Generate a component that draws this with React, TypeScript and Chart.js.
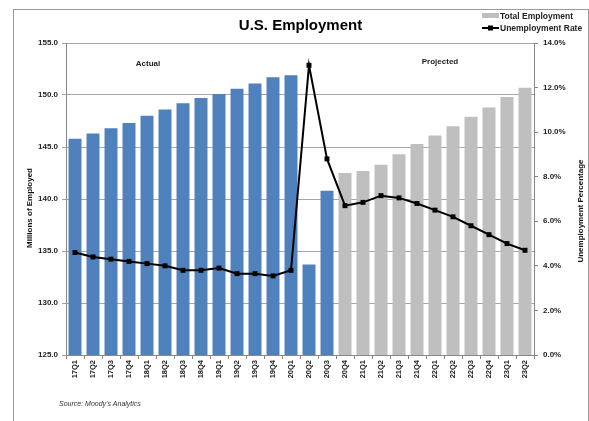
import React, { useEffect, useRef } from "react";
import { Chart, registerables } from "chart.js";

Chart.register(...registerables);

const categories = [
  "17Q1", "17Q2", "17Q3", "17Q4", "18Q1", "18Q2", "18Q3", "18Q4",
  "19Q1", "19Q2", "19Q3", "19Q4", "20Q1", "20Q2", "20Q3",
  "20Q4", "21Q1", "21Q2", "21Q3", "21Q4", "22Q1", "22Q2", "22Q3", "22Q4", "23Q1", "23Q2",
];

// Total employment, millions (actual through 20Q3, projected afterwards)
const totalEmployment = [
  145.8, 146.3, 146.8, 147.3, 148.0, 148.6, 149.2, 149.7,
  150.1, 150.6, 151.1, 151.7, 151.9, 133.7, 140.8,
  142.5, 142.7, 143.3, 144.3, 145.3, 146.1, 147.0, 147.9, 148.8, 149.8, 150.7,
];

// Unemployment rate, percent
const unemploymentRate = [
  4.6, 4.4, 4.3, 4.2, 4.1, 4.0, 3.8, 3.8,
  3.9, 3.65, 3.65, 3.55, 3.8, 13.0, 8.8,
  6.7, 6.85, 7.15, 7.05, 6.8, 6.5, 6.2, 5.8, 5.4, 5.0, 4.7,
];

const actualCount = 15; // 17Q1 .. 20Q3 are actual

const leftTicks = { min: 125, max: 155, step: 5 };
const rightTicks = { min: 0, max: 14, step: 2 };

const BLUE = "#4F81BD";
const GRAY = "#BFBFBF";
const FONT = "'Liberation Sans', Arial, sans-serif";

export default function App() {
  const ref = useRef<HTMLCanvasElement | null>(null);

  useEffect(() => {
    if (!ref.current) return;
    const barColors = categories.map((_, i) => (i < actualCount ? BLUE : GRAY));

    const decor = {
      id: "decor",
      beforeDraw(chart: any) {
        const ctx = chart.ctx;
        ctx.save();
        ctx.fillStyle = "#ffffff";
        ctx.fillRect(0, 0, chart.width, chart.height);
        ctx.strokeStyle = "#9a9a9a";
        ctx.lineWidth = 1;
        ctx.strokeRect(13.5, 9.5, 575, 430);
        ctx.restore();
      },
      afterDraw(chart: any) {
        const ctx = chart.ctx;
        ctx.save();
        ctx.fillStyle = "#000";
        ctx.textBaseline = "alphabetic";
        // title
        ctx.font = `bold 15px ${FONT}`;
        ctx.textAlign = "center";
        ctx.fillText("U.S. Employment", 300.5, 30);
        // annotations
        ctx.font = `bold 8px ${FONT}`;
        ctx.fillStyle = "#222";
        ctx.fillText("Actual", 148, 66);
        ctx.fillText("Projected", 440, 64);
        // axis titles
        ctx.fillStyle = "#111";
        ctx.save();
        ctx.translate(32, 208);
        ctx.rotate(-Math.PI / 2);
        ctx.fillText("Millions of Employed", 0, 0);
        ctx.restore();
        ctx.save();
        ctx.translate(583, 211);
        ctx.rotate(-Math.PI / 2);
        ctx.fillText("Unemployment Percentage", 0, 0);
        ctx.restore();
        // source
        ctx.font = `italic 7px ${FONT}`;
        ctx.textAlign = "left";
        ctx.fillStyle = "#333";
        ctx.fillText("Source: Moody's Analytics", 59, 406);
        // legend
        ctx.fillStyle = GRAY;
        ctx.fillRect(482, 13, 17, 5);
        ctx.strokeStyle = "#000";
        ctx.lineWidth = 2;
        ctx.beginPath();
        ctx.moveTo(482, 28);
        ctx.lineTo(499, 28);
        ctx.stroke();
        ctx.fillStyle = "#000";
        ctx.fillRect(488, 25.5, 5, 5);
        ctx.font = `bold 8.5px ${FONT}`;
        ctx.fillStyle = "#222";
        ctx.fillText("Total Employment", 500, 19);
        ctx.fillText("Unemployment Rate", 500, 31);
        ctx.restore();
      },
    };

    const chart = new Chart(ref.current, {
      type: "bar",
      data: {
        labels: categories,
        datasets: [
          {
            type: "line",
            label: "Unemployment Rate",
            data: unemploymentRate,
            yAxisID: "y1",
            borderColor: "#000",
            backgroundColor: "#000",
            borderWidth: 2,
            pointStyle: "rect",
            pointRadius: 3.5,
            pointBorderWidth: 0,
            tension: 0,
            clip: false,
            order: 0,
          } as any,
          {
            type: "bar",
            label: "Total Employment",
            data: totalEmployment,
            yAxisID: "y",
            backgroundColor: barColors,
            borderWidth: 0,
            barPercentage: 0.72,
            categoryPercentage: 1,
            order: 1,
          } as any,
        ],
      },
      options: {
        responsive: false,
        animation: false,
        devicePixelRatio: 1,
        layout: { padding: { top: 43, left: 0, right: 0, bottom: 0 } },
        plugins: {
          legend: { display: false },
          title: { display: false },
          tooltip: { enabled: false },
        },
        scales: {
          x: {
            type: "category",
            offset: true,
            grid: {
              display: true,
              drawOnChartArea: false,
              drawTicks: true,
              tickLength: 4,
              color: "#888",
              offset: true,
            },
            border: { color: "#888" },
            ticks: {
              autoSkip: false,
              minRotation: 90,
              maxRotation: 90,
              padding: 1,
              color: "#222",
              font: { family: FONT, size: 7.5, weight: "bold" },
            },
            afterFit(scale: any) {
              scale.height = 66;
            },
          },
          y: {
            position: "left",
            min: leftTicks.min,
            max: leftTicks.max,
            grid: { color: "#a6a6a6", tickLength: 4 },
            border: { color: "#888" },
            ticks: {
              stepSize: leftTicks.step,
              padding: 4,
              color: "#222",
              font: { family: FONT, size: 8, weight: "bold" },
              callback: (v: any) => Number(v).toFixed(1),
            },
            afterFit(scale: any) {
              scale.width = 66;
            },
          },
          y1: {
            position: "right",
            min: rightTicks.min,
            max: rightTicks.max,
            grid: { drawOnChartArea: false, color: "#888", tickLength: 4 },
            border: { color: "#888" },
            ticks: {
              stepSize: rightTicks.step,
              padding: 5,
              color: "#222",
              font: { family: FONT, size: 8, weight: "bold" },
              callback: (v: any) => Number(v).toFixed(1) + "%",
            },
            afterFit(scale: any) {
              scale.width = 55;
            },
          },
        },
      } as any,
      plugins: [decor],
    });
    return () => chart.destroy();
  }, []);

  return (
    <div style={{ position: "absolute", left: 0, top: 0, width: 589, height: 421, background: "#fff" }}>
      <canvas ref={ref} width={589} height={421} style={{ display: "block" }} />
    </div>
  );
}
